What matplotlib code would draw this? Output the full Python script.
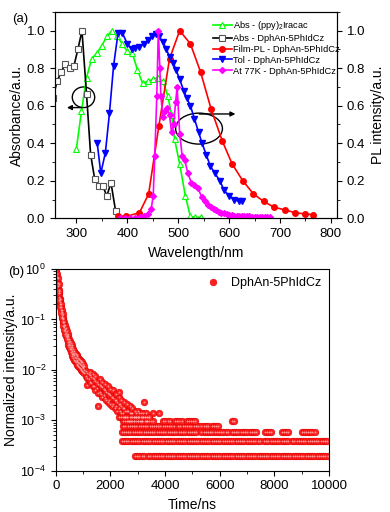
import matplotlib
matplotlib.use("Agg")
import matplotlib.pyplot as plt
import numpy as np
from matplotlib.patches import Ellipse
from matplotlib.ticker import MultipleLocator, LogLocator, NullFormatter

plt.rcParams['font.family'] = ['Liberation Sans', 'DejaVu Sans']
plt.rcParams['mathtext.fontset'] = 'custom'
plt.rcParams['mathtext.rm'] = 'Liberation Sans'
plt.rcParams['mathtext.it'] = 'Liberation Sans:italic'

# ---- panel (a): absorption / PL spectra ----
abs_ir_wl = [300, 310, 320, 330, 340, 350, 360, 370, 380, 390, 400, 410, 420, 430,
             440, 450, 460, 470, 480, 487, 493, 503, 514, 524, 534, 545]
abs_ir_val = [0.37, 0.57, 0.75, 0.85, 0.88, 0.92, 0.97, 1.0, 0.97, 0.93, 0.89, 0.88,
              0.79, 0.72, 0.73, 0.74, 0.75, 0.73, 0.65, 0.55, 0.42, 0.29, 0.12, 0.01,
              0.005, 0.005]

abs_host_wl = [254, 262, 270, 278, 287, 295, 303, 311, 320, 328, 336, 344, 352, 360,
               368, 377]
abs_host_val = [0.64, 0.73, 0.78, 0.82, 0.80, 0.81, 0.90, 1.0, 0.66, 0.34, 0.21, 0.17,
                0.17, 0.12, 0.19, 0.04]

film_wl = [382, 398, 424, 442, 462, 483, 503, 524, 544, 565, 587, 606, 627, 648, 668,
           688, 709, 730, 750, 765]
film_val = [0.014, 0.01, 0.03, 0.13, 0.49, 0.85, 1.0, 0.93, 0.78, 0.58, 0.41, 0.29,
            0.20, 0.13, 0.09, 0.06, 0.045, 0.03, 0.023, 0.02]

tol_wl = [341, 348, 357, 365, 373, 382, 390, 400, 409, 416, 424, 432, 441, 449, 457,
          462, 470, 477, 483, 490, 496, 503, 511, 517, 524, 532, 540, 547, 555, 563,
          572, 582, 590, 600, 610, 620, 626]
tol_val = [0.40, 0.24, 0.35, 0.56, 0.81, 0.99, 0.99, 0.93, 0.90, 0.91, 0.915, 0.93,
           0.95, 0.97, 0.98, 0.97, 0.94, 0.90, 0.86, 0.83, 0.79, 0.74, 0.68, 0.64,
           0.60, 0.53, 0.46, 0.40, 0.34, 0.28, 0.24, 0.20, 0.15, 0.12, 0.10, 0.09, 0.09]

k77_wl = [385, 395, 405, 415, 425, 432, 440, 447, 451, 454, 458, 461, 464, 466, 470,
          475, 479, 483, 487, 491, 495, 498, 503, 508, 513, 519, 526, 532, 539, 546,
          552, 559, 565, 570, 575, 580, 585, 590, 595, 600, 605, 610, 615, 620, 625,
          630, 635, 640, 645, 650, 655, 660, 665, 670, 675, 680]
k77_val = [0.0, 0.0, 0.002, 0.004, 0.007, 0.012, 0.025, 0.05, 0.12, 0.33, 0.65, 1.0,
           0.80, 0.65, 0.54, 0.57, 0.59, 0.55, 0.46, 0.50, 0.62, 0.70, 0.45, 0.33,
           0.31, 0.24, 0.19, 0.18, 0.16, 0.115, 0.09, 0.07, 0.058, 0.05, 0.042, 0.036,
           0.03, 0.026, 0.022, 0.02, 0.017, 0.015, 0.014, 0.013, 0.012, 0.011, 0.01,
           0.01, 0.009, 0.009, 0.008, 0.008, 0.007, 0.007, 0.006, 0.006]

# ---- panel (b): transient PL decay ----
decay_t = [0, 20, 40, 60, 72, 85, 96, 110, 120, 133, 145, 160, 170, 182, 195, 210,
           225, 243, 260, 280, 300, 316, 335, 355, 375, 401, 425, 450, 475, 500, 523,
           550, 575, 600, 625, 644, 670, 700, 730, 760, 790, 827, 860, 890, 920, 950,
           980, 1010]
decay_i = [1.0, 0.92, 0.80, 0.70, 0.65, 0.53, 0.45, 0.38, 0.34, 0.28, 0.25, 0.22,
           0.20, 0.18, 0.155, 0.14, 0.125, 0.113, 0.10, 0.088, 0.079, 0.072, 0.065,
           0.059, 0.054, 0.049, 0.044, 0.040, 0.036, 0.033, 0.031, 0.028, 0.026,
           0.024, 0.022, 0.021, 0.0195, 0.018, 0.017, 0.016, 0.015, 0.0145, 0.0135,
           0.0128, 0.0122, 0.0117, 0.0112, 0.0107]

# upper / lower edge of the noisy band in the early decay
band_t = [100, 130, 160, 190, 220, 250, 280, 310, 340, 370, 400, 430, 460, 490, 520,
          550, 580, 610, 640, 670, 700, 730, 760, 790, 820, 850, 880, 910, 940, 970,
          1000]
band_hi = [0.50, 0.34, 0.26, 0.20, 0.155, 0.128, 0.105, 0.09, 0.076, 0.067, 0.058,
           0.052, 0.046, 0.041, 0.037, 0.034, 0.031, 0.028, 0.026, 0.024, 0.022,
           0.0205, 0.0195, 0.0185, 0.0175, 0.0165, 0.016, 0.015, 0.0145, 0.014, 0.0132]
band_lo = [0.36, 0.24, 0.18, 0.137, 0.108, 0.089, 0.073, 0.061, 0.052, 0.046, 0.040,
           0.036, 0.031, 0.028, 0.026, 0.023, 0.021, 0.019, 0.0175, 0.016, 0.015,
           0.014, 0.0132, 0.0124, 0.012, 0.0113, 0.0108, 0.0103, 0.0098, 0.0094, 0.009]

count_unit = 1.95e-4  # lowest quantised level seen in the tail

scatter_t = [1050, 1050, 1050, 1100, 1100, 1150, 1150, 1150, 1200, 1200, 1250, 1250,
             1250, 1300, 1300, 1350, 1350, 1350, 1400, 1400, 1450, 1450, 1450, 1500,
             1500, 1550, 1550, 1550, 1600, 1600, 1600, 1650, 1650, 1700, 1700, 1700,
             1750, 1750, 1800, 1800, 1800, 1850, 1850, 1900, 1900, 1900, 1950, 1950,
             2000, 2000, 2000, 2050, 2050, 2100, 2100, 2100, 2150, 2150, 2200, 2200,
             2200, 2250, 2250, 2300, 2300, 2300, 2325, 2350, 2350, 2400, 2400, 2400,
             2450, 2450, 2500, 2500, 2500, 2550, 2550, 2600, 2600, 2600, 2650, 2650,
             2700, 2700, 2700, 2750, 2750, 2800, 2800, 2800, 2850, 2850, 2900, 2900,
             2950, 2950, 3000, 3000, 3000, 3050, 3050, 3100, 3100, 3150, 3150, 3200,
             3200, 3238, 3250, 3300, 3300, 3350, 3350, 3400, 3550, 3780]
scatter_n = [52, 44, 60, 48, 38, 45, 36, 26, 42, 33, 40, 30, 47, 37, 28, 35, 25, 43,
             33, 24, 31, 20, 38, 29, 22, 27, 18, 10, 26, 19, 33, 24, 17, 23, 15, 29,
             21, 16, 20, 14, 27, 19, 13, 18, 12, 24, 17, 13, 16, 11, 21, 15, 10, 14,
             11, 20, 13, 9, 13, 10, 17, 12, 8, 11, 9, 15, 19, 11, 8, 10, 7, 13, 9, 7,
             9, 6, 12, 8, 6, 8, 6, 11, 8, 5, 7, 5, 10, 7, 6, 7, 5, 9, 6, 5, 6, 8, 6, 7,
             6, 5, 8, 6, 7, 5, 7, 5, 6, 6, 7, 12, 6, 5, 7, 5, 6, 6, 7, 7]

# time ranges (ns) occupied by the flat rows of 1..6 counts
level_runs = {
    1: [(2900, 3220), (3380, 10000)],
    2: [(2420, 7530), (7620, 8560), (8650, 10000)],
    3: [(2410, 4600), (4660, 5210), (5330, 6310), (6430, 6680), (6770, 7350),
        (7650, 7950), (8260, 8560), (8990, 9480)],
    4: [(2470, 4360), (4480, 5210), (5330, 5580), (5700, 5940)],
    5: [(2450, 3630), (3930, 4180), (4360, 4600), (4790, 5150), (6430, 6550)],
    6: [(2300, 3450)],
}
channel_ns = 80


def plot_spectra(ax):
    ax.plot(abs_ir_wl, abs_ir_val, color='#00ff00', lw=1.2, marker='^', ms=4,
            mfc='white', mec='#00ff00', mew=0.8, label=r'Abs - (ppy)$_2$Iracac')
    ax.plot(abs_host_wl, abs_host_val, color='black', lw=1.2, marker='s', ms=3.8,
            mfc='white', mec='#555555', mew=0.8, label='Abs - DphAn-5PhIdCz')
    ax.set_xlim(258, 812)
    ax.set_ylim(0, 1.1)
    ax.set_xlabel('Wavelength/nm', fontsize=10)
    ax.set_ylabel('Absorbance/a.u.', fontsize=10, labelpad=2)
    ax.xaxis.set_major_locator(MultipleLocator(100))
    ax.xaxis.set_minor_locator(MultipleLocator(50))
    ax.yaxis.set_major_locator(MultipleLocator(0.2))
    ax.yaxis.set_minor_locator(MultipleLocator(0.1))
    ax.tick_params(which='both', direction='out', labelsize=9.5, top=False, right=False)
    ax.tick_params(which='major', length=3.5)
    ax.tick_params(which='minor', length=2)

    ax2 = ax.twinx()
    ax2.plot(film_wl, film_val, color='#ff0000', lw=1.2, marker='o', ms=4,
             label='Film-PL - DphAn-5PhIdCz')
    ax2.plot(tol_wl, tol_val, color='#0000ff', lw=1.2, marker='v', ms=4,
             label='Tol - DphAn-5PhIdCz')
    ax2.plot(k77_wl, k77_val, color='#ff00ff', lw=1.2, marker='D', ms=3,
             label='At 77K - DphAn-5PhIdCz')
    ax2.set_ylim(0, 1.1)
    ax2.set_ylabel('PL intensity/a.u.', fontsize=10, labelpad=4)
    ax2.yaxis.set_major_locator(MultipleLocator(0.2))
    ax2.yaxis.set_minor_locator(MultipleLocator(0.1))
    ax2.tick_params(which='both', direction='out', labelsize=9.5)
    ax2.tick_params(which='major', length=3.5)
    ax2.tick_params(which='minor', length=2)

    # circled guides pointing to the relevant axis
    ax.add_patch(Ellipse((314, 0.645), 44, 0.11, fill=False, lw=1, color='black'))
    ax.annotate('', xy=(276, 0.59), xytext=(317, 0.59),
                arrowprops=dict(arrowstyle='-|>', color='black', lw=1,
                                mutation_scale=7))
    ax.add_patch(Ellipse((541, 0.478), 92, 0.165, fill=False, lw=1, color='black'))
    ax.annotate('', xy=(618, 0.556), xytext=(536, 0.556),
                arrowprops=dict(arrowstyle='-|>', color='black', lw=1,
                                mutation_scale=7))

    h1, l1 = ax.get_legend_handles_labels()
    h2, l2 = ax2.get_legend_handles_labels()
    ax2.legend(h1 + h2, l1 + l2, loc='upper left', bbox_to_anchor=(0.56, 0.965),
               frameon=False, fontsize=6.7, handlelength=2.0, handletextpad=0.2,
               labelspacing=0.2, borderaxespad=0, borderpad=0)


def plot_decay(ax):
    t_all = list(decay_t) + list(band_t) + list(band_t) + list(scatter_t)
    i_all = (list(decay_i) + list(band_hi) + list(band_lo)
             + [n * count_unit for n in scatter_n])
    for n, runs in level_runs.items():
        for start, stop in runs:
            pts = np.arange(start, stop + 1, channel_ns)
            t_all += list(pts)
            i_all += [n * count_unit] * len(pts)
    ax.plot(t_all, i_all, ls='none', marker='o', ms=4.8, mfc='#ff2020',
            mec='#e00000', mew=0.4, label='DphAn-5PhIdCz')
    ax.plot(t_all, i_all, ls='none', marker='o', ms=1.4, mfc='#ffb0b0',
            mec='none', alpha=0.8)
    ax.set_yscale('log')
    ax.set_xlim(0, 10000)
    ax.set_ylim(1e-4, 1)
    ax.set_xlabel('Time/ns', fontsize=10)
    ax.set_ylabel('Normalized intensity/a.u.', fontsize=10, labelpad=2)
    ax.xaxis.set_major_locator(MultipleLocator(2000))
    ax.xaxis.set_minor_locator(MultipleLocator(1000))
    ax.yaxis.set_major_locator(LogLocator(base=10, numticks=10))
    ax.yaxis.set_minor_locator(LogLocator(base=10, subs=np.arange(2, 10), numticks=10))
    ax.yaxis.set_minor_formatter(NullFormatter())
    ax.tick_params(which='both', direction='out', labelsize=9.5, top=False, right=False)
    ax.tick_params(axis='y', which='major', labelsize=9)
    ax.tick_params(which='major', length=3.5)
    ax.tick_params(which='minor', length=2)
    handles, labels = ax.get_legend_handles_labels()
    ax.legend(handles[:1], labels[:1], loc='upper right', frameon=False, fontsize=9,
              handlelength=0.8, handletextpad=1.0, borderaxespad=0.25)


if __name__ == '__main__':
    fig = plt.figure(figsize=(3.9, 5.12), dpi=100)
    ax_a = fig.add_axes([0.141, 0.5736, 0.723, 0.4032])
    ax_b = fig.add_axes([0.143, 0.0807, 0.701, 0.3939])
    plot_spectra(ax_a)
    plot_decay(ax_b)
    fig.text(0.03, 0.958, '(a)', fontsize=9.5)
    fig.text(0.022, 0.462, '(b)', fontsize=9.5)
    fig.savefig('out.png', dpi=100)
